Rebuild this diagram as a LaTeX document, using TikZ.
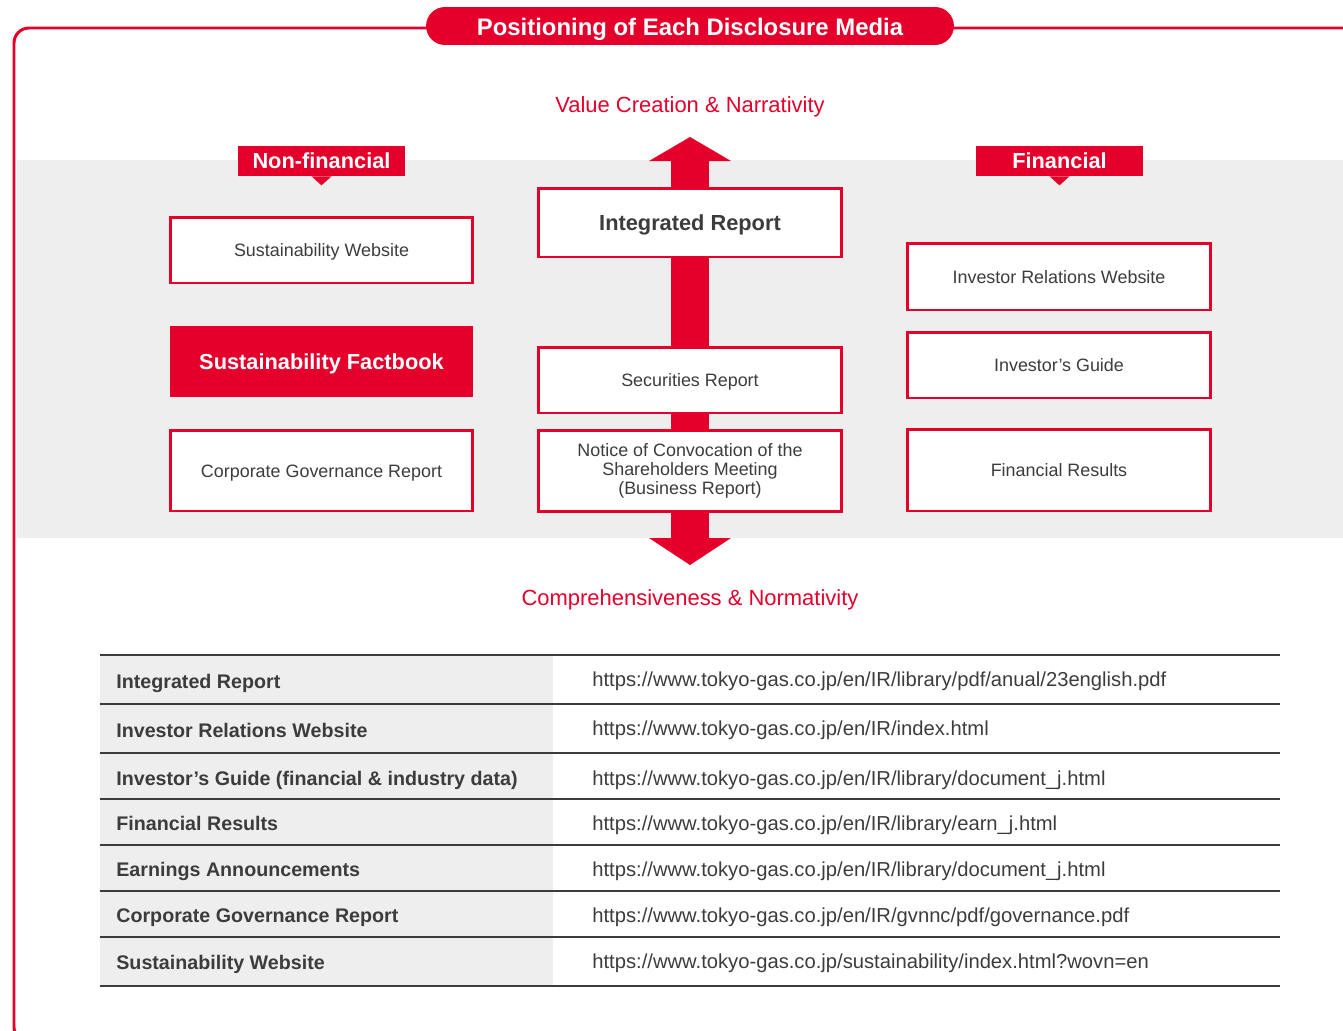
\documentclass[tikz,border=0pt]{standalone}
\usepackage{fontspec}
\setmainfont{Liberation Sans}
\usetikzlibrary{positioning}
\definecolor{tgred}{HTML}{E4002B}
\definecolor{bandgray}{HTML}{EEEEEE}
\definecolor{inkgray}{HTML}{3C3C3C}
\begin{document}
\begin{tikzpicture}[x=0.02cm,y=-0.02cm,
  mediabox/.style={draw=tgred,line width=1.7pt,fill=white,text=inkgray,inner sep=0pt,
    minimum width=6.06cm,align=center,font=\fontsize{10.2}{10.8}\selectfont},
  oneline/.style={text height=9.6pt,text depth=2.2pt},
  boldline/.style={text height=11.4pt,text depth=2.6pt,font=\fontsize{12.4}{14}\selectfont\bfseries},
  redbox/.style={fill=tgred,text=white,inner sep=0pt,minimum width=6.06cm,boldline},
  sidetag/.style={fill=tgred,text=white,inner sep=0pt,minimum width=3.34cm,minimum height=0.6cm,
    font=\fontsize{12.4}{14}\selectfont\bfseries},
  axislabel/.style={text=tgred,font=\fontsize{12.5}{14}\selectfont},
  rowhead/.style={anchor=base west,inner sep=0pt,text=inkgray,font=\fontsize{11.2}{13}\selectfont\bfseries},
  rowlink/.style={anchor=base west,inner sep=0pt,text=inkgray,font=\fontsize{11.5}{13}\selectfont},
  rule/.style={draw=inkgray,line width=0.6pt}]
\useasboundingbox (0,0) rectangle (1343,1031);
\clip (0,0) rectangle (1343,1031);
% grey band and outer frame
\fill[bandgray] (17,160) rectangle (1343,538);
\draw[tgred,line width=1.7pt,rounded corners=0.3cm] (1400,28) -- (14,28) -- (14,1042) -- (1400,1042);
\node[fill=tgred,text=white,rounded corners=0.38cm,minimum width=10.56cm,minimum height=0.76cm,inner sep=0pt,
  text height=13.2pt,text depth=2.9pt,font=\fontsize{13.6}{15}\selectfont\bfseries] (title) at (690,26) {Positioning of Each Disclosure Media};
% axis
\node[axislabel] (value) at (690,107) {Value Creation \& Narrativity};
\node[axislabel] (compr) at (690,600) {Comprehensiveness \& Normativity};
\coordinate (uphead) at (690,161);
\coordinate (downhead) at (690,538);
\fill[tgred] ([xshift=-0.38cm]uphead) rectangle ([xshift=0.38cm]downhead);
\fill[tgred] ([xshift=-0.82cm]uphead) -- ++(41,-24) -- ++(41,24) -- cycle;
\fill[tgred] ([xshift=-0.82cm]downhead) -- ++(41,27) -- ++(41,-27) -- cycle;
% non-financial column
\node[sidetag] (nonfin) at (321.5,161) {Non-financial};
\fill[tgred] ([xshift=-0.2cm]nonfin.south) -- ++(10,9) -- ++(10,-9) -- cycle;
\node[mediabox,oneline,minimum height=1.32cm] (sweb) at (321.5,250) {Sustainability Website};
\node[redbox,minimum height=1.42cm] (sfact) at (321.5,361.5) {Sustainability Factbook};
\node[mediabox,oneline,minimum height=1.62cm] (cgov) at (321.5,470.5) {Corporate Governance Report};
% centre column
\node[mediabox,boldline,minimum height=1.38cm] (intrep) at (690,222.5) {Integrated Report};
\node[mediabox,oneline,minimum height=1.32cm] (secrep) at (690,380) {Securities Report};
\node[mediabox,minimum height=1.62cm] (notice) at (690,471) {Notice of Convocation of the\\Shareholders Meeting\\(Business Report)};
% financial column
\node[sidetag] (fin) at (1059.5,161) {Financial};
\fill[tgred] ([xshift=-0.2cm]fin.south) -- ++(10,9) -- ++(10,-9) -- cycle;
\node[mediabox,oneline,minimum height=1.34cm] (irweb) at (1059,276.5) {Investor Relations Website};
\node[mediabox,oneline,minimum height=1.32cm] (guide) at (1059,365) {Investor’s Guide};
\node[mediabox,oneline,minimum height=1.64cm] (finres) at (1059,470) {Financial Results};
% table of links
\fill[bandgray] (100,655) rectangle (553,986);
\foreach \y in {655,704,753,799,845,891,937,986}
  \draw[rule] (100,\y) -- (1280,\y);
\node[rowhead] (t1) at (116,688) {Integrated Report};
\node[rowlink] (u1) at (592,686) {https://www.tokyo-gas.co.jp/en/IR/library/pdf/anual/23english.pdf};
\node[rowhead] (t2) at (116,737) {Investor Relations Website};
\node[rowlink] (u2) at (592,735) {https://www.tokyo-gas.co.jp/en/IR/index.html};
\node[rowhead] (t3) at (116,785) {Investor’s Guide (financial \& industry data)};
\node[rowlink] (u3) at (592,785) {https://www.tokyo-gas.co.jp/en/IR/library/document\_j.html};
\node[rowhead] (t4) at (116,830) {Financial Results};
\node[rowlink] (u4) at (592,830) {https://www.tokyo-gas.co.jp/en/IR/library/earn\_j.html};
\node[rowhead] (t5) at (116,876) {Earnings Announcements};
\node[rowlink] (u5) at (592,876) {https://www.tokyo-gas.co.jp/en/IR/library/document\_j.html};
\node[rowhead] (t6) at (116,922) {Corporate Governance Report};
\node[rowlink] (u6) at (592,922) {https://www.tokyo-gas.co.jp/en/IR/gvnnc/pdf/governance.pdf};
\node[rowhead] (t7) at (116,969) {Sustainability Website};
\node[rowlink] (u7) at (592,968) {https://www.tokyo-gas.co.jp/sustainability/index.html?wovn=en};
\end{tikzpicture}
\end{document}
